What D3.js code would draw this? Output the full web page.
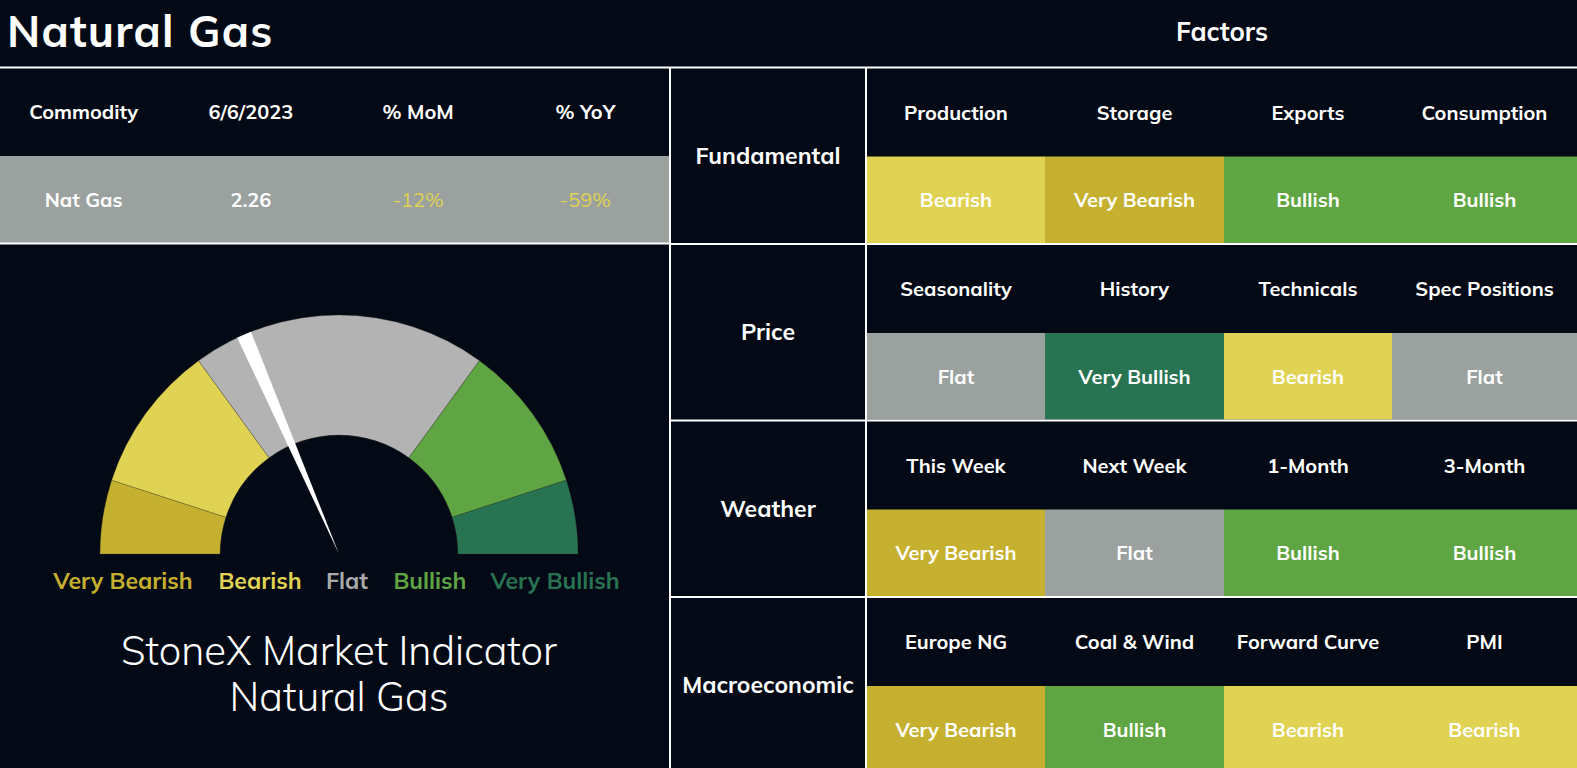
<!DOCTYPE html>
<html>
<head>
<meta charset="utf-8">
<script src="https://cdn.jsdelivr.net/npm/d3@7"></script>
<style>
  body { margin: 0; background: #040a15; overflow: hidden; }
  text { font-family: Mulish, Lato, sans-serif; fill: #fff; }
</style>
</head>
<body>
<div id="chart"></div>
<script>
// ---- data ----
const summaryHeaders = ["Commodity", "6/6/2023", "% MoM", "% YoY"];
const summaryValues = ["Nat Gas", "2.26", "-12%", "-59%"];

const levels = ["Very Bearish", "Bearish", "Flat", "Bullish", "Very Bullish"];
const gaugeShares = [10, 20, 40, 20, 10];
const gaugeValue = 37; // needle position, 0..100

const groups = ["Fundamental", "Price", "Weather", "Macroeconomic"];
const factorNames = [
  ["Production", "Storage", "Exports", "Consumption"],
  ["Seasonality", "History", "Technicals", "Spec Positions"],
  ["This Week", "Next Week", "1-Month", "3-Month"],
  ["Europe NG", "Coal & Wind", "Forward Curve", "PMI"]
];
const factorRatings = [
  ["Bearish", "Very Bearish", "Bullish", "Bullish"],
  ["Flat", "Very Bullish", "Bearish", "Flat"],
  ["Very Bearish", "Flat", "Bullish", "Bullish"],
  ["Very Bearish", "Bullish", "Bearish", "Bearish"]
];

// ---- layout ----
const w = 1577, h = 768;
const bg = "#040a15";
const lineColor = "#ffffff";
const leftW = 669;            // left panel right edge
const groupX = [671, 865];    // group label column
const colEdges = [867, 1045, 1224, 1392, 1577];

const cellColor = d3.scaleOrdinal()
  .domain(levels)
  .range(["#c5b12f", "#e0d252", "#9ba19f", "#5fa543", "#287352"]);
const gaugeColor = d3.scaleOrdinal()
  .domain(levels)
  .range(["#c5b12f", "#e0d252", "#b3b3b3", "#5fa543", "#287352"]);

const svg = d3.select("#chart")
  .append("svg")
  .attr("width", w)
  .attr("height", h);

svg.append("rect").attr("width", w).attr("height", h).attr("fill", bg);

// Titles
svg.append("text")
  .attr("x", 7)
  .attr("y", 47)
  .style("font-size", "44px")
  .style("font-weight", 700)
  .style("letter-spacing", "1.2px")
  .text("Natural Gas");

svg.append("text")
  .attr("x", 1222)
  .attr("y", 41)
  .attr("text-anchor", "middle")
  .style("font-size", "26px")
  .style("font-weight", 700)
  .text("Factors");

// ---- left summary table ----
const sumX = d3.scaleBand()
  .domain(summaryHeaders)
  .range([0, leftW]);

svg.append("rect")
  .attr("x", 0)
  .attr("y", 156)
  .attr("width", leftW)
  .attr("height", 87)
  .attr("fill", cellColor("Flat"));

svg.selectAll(".sum-head")
  .data(summaryHeaders)
  .enter()
  .append("text")
  .attr("class", "sum-head")
  .attr("x", d => sumX(d) + sumX.bandwidth() / 2)
  .attr("y", 112)
  .attr("dy", ".35em")
  .attr("text-anchor", "middle")
  .style("font-size", "20px")
  .style("font-weight", 700)
  .text(d => d);

svg.selectAll(".sum-val")
  .data(summaryValues)
  .enter()
  .append("text")
  .attr("class", "sum-val")
  .attr("x", (d, i) => sumX(summaryHeaders[i]) + sumX.bandwidth() / 2)
  .attr("y", 200)
  .attr("dy", ".35em")
  .attr("text-anchor", "middle")
  .style("font-size", "20px")
  .style("font-weight", (d, i) => i < 2 ? 700 : 400)
  .style("fill", d => d.startsWith("-") ? cellColor("Bearish") : "#fff")
  .text(d => d);

// ---- gauge ----
const cx = 339, cy = 554, outerR = 239, innerR = 119;
const gauge = svg.append("g").attr("transform", "translate(" + cx + "," + cy + ")");

const pie = d3.pie()
  .sort(null)
  .value(d => d)
  .startAngle(-Math.PI / 2)
  .endAngle(Math.PI / 2);

const arc = d3.arc().innerRadius(innerR).outerRadius(outerR);

gauge.selectAll("path.seg")
  .data(pie(gaugeShares))
  .enter()
  .append("path")
  .attr("class", "seg")
  .attr("d", arc)
  .attr("fill", (d, i) => gaugeColor(levels[i]))
  .attr("stroke", "rgba(60,60,40,0.5)")
  .attr("stroke-width", 0.6);

const valAngle = d3.scaleLinear().domain([0, 100]).range([-Math.PI / 2, Math.PI / 2]);
const a = valAngle(gaugeValue);
const half = 7.5 / outerR;
const pt = (ang, r) => [r * Math.sin(ang), -r * Math.cos(ang)];
gauge.append("path")
  .attr("d", d3.line()([[0, 0], pt(a - half, outerR), pt(a + half, outerR)]) + "Z")
  .attr("fill", "#fff");

// level labels under gauge
const labelX = [123, 260, 347, 430, 555];
svg.selectAll(".lvl")
  .data(levels)
  .enter()
  .append("text")
  .attr("class", "lvl")
  .attr("x", (d, i) => labelX[i])
  .attr("y", 581)
  .attr("dy", ".35em")
  .attr("text-anchor", "middle")
  .style("font-size", "23px")
  .style("font-weight", 700)
  .style("fill", d => d === "Flat" ? "#aaaaaa" : gaugeColor(d))
  .text(d => d);

svg.append("text")
  .attr("x", 339)
  .attr("y", 651)
  .attr("dy", ".35em")
  .attr("text-anchor", "middle")
  .style("font-size", "40px")
  .style("font-weight", 300)
  .text("StoneX Market Indicator");

svg.append("text")
  .attr("x", 339)
  .attr("y", 697)
  .attr("dy", ".35em")
  .attr("text-anchor", "middle")
  .style("font-size", "40px")
  .style("font-weight", 300)
  .text("Natural Gas");

// ---- factors grid ----
const rowY = d3.scaleBand()
  .domain(groups)
  .range([68.5, 68.5 + groups.length * 176])
  .paddingInner(2 / 176)
  .paddingOuter(0);

const blocks = svg.selectAll(".block")
  .data(groups)
  .enter()
  .append("g")
  .attr("class", "block")
  .attr("transform", d => "translate(0," + rowY(d) + ")");

const bh = rowY.bandwidth();

blocks.append("text")
  .attr("x", (groupX[0] + groupX[1]) / 2)
  .attr("y", bh / 2)
  .attr("dy", ".35em")
  .attr("text-anchor", "middle")
  .style("font-size", "23px")
  .style("font-weight", 700)
  .text(d => d);

blocks.each(function(g, gi) {
  const blk = d3.select(this);
  const cells = factorNames[gi].map((name, j) => ({
    name: name,
    rating: factorRatings[gi][j],
    x0: colEdges[j],
    x1: colEdges[j + 1]
  }));

  blk.selectAll("rect")
    .data(cells)
    .enter()
    .append("rect")
    .attr("x", d => d.x0)
    .attr("y", 88)
    .attr("width", d => d.x1 - d.x0)
    .attr("height", bh - 88)
    .attr("fill", d => cellColor(d.rating));

  blk.selectAll(".fname")
    .data(cells)
    .enter()
    .append("text")
    .attr("class", "fname")
    .attr("x", d => (d.x0 + d.x1) / 2)
    .attr("y", 44)
    .attr("dy", ".35em")
    .attr("text-anchor", "middle")
    .style("font-size", "20px")
    .style("font-weight", 700)
    .text(d => d.name);

  blk.selectAll(".frate")
    .data(cells)
    .enter()
    .append("text")
    .attr("class", "frate")
    .attr("x", d => (d.x0 + d.x1) / 2)
    .attr("y", 131.5)
    .attr("dy", ".35em")
    .attr("text-anchor", "middle")
    .style("font-size", "20px")
    .style("font-weight", 700)
    .text(d => d.rating);
});

// ---- rule lines ----
const lines = svg.append("g")
  .attr("stroke", lineColor)
  .attr("stroke-width", 2);

lines.append("line").attr("x1", 0).attr("x2", w).attr("y1", 67.5).attr("y2", 67.5);
lines.append("line").attr("x1", 0).attr("x2", leftW).attr("y1", 243.5).attr("y2", 243.5);
lines.append("line").attr("x1", 670).attr("x2", 670).attr("y1", 67).attr("y2", h);
lines.append("line").attr("x1", 866).attr("x2", 866).attr("y1", 67).attr("y2", h);

lines.selectAll(".hsep")
  .data(groups.slice(1))
  .enter()
  .append("line")
  .attr("class", "hsep")
  .attr("x1", 671)
  .attr("x2", w)
  .attr("y1", d => rowY(d) - 1)
  .attr("y2", d => rowY(d) - 1);
</script>
</body>
</html>
